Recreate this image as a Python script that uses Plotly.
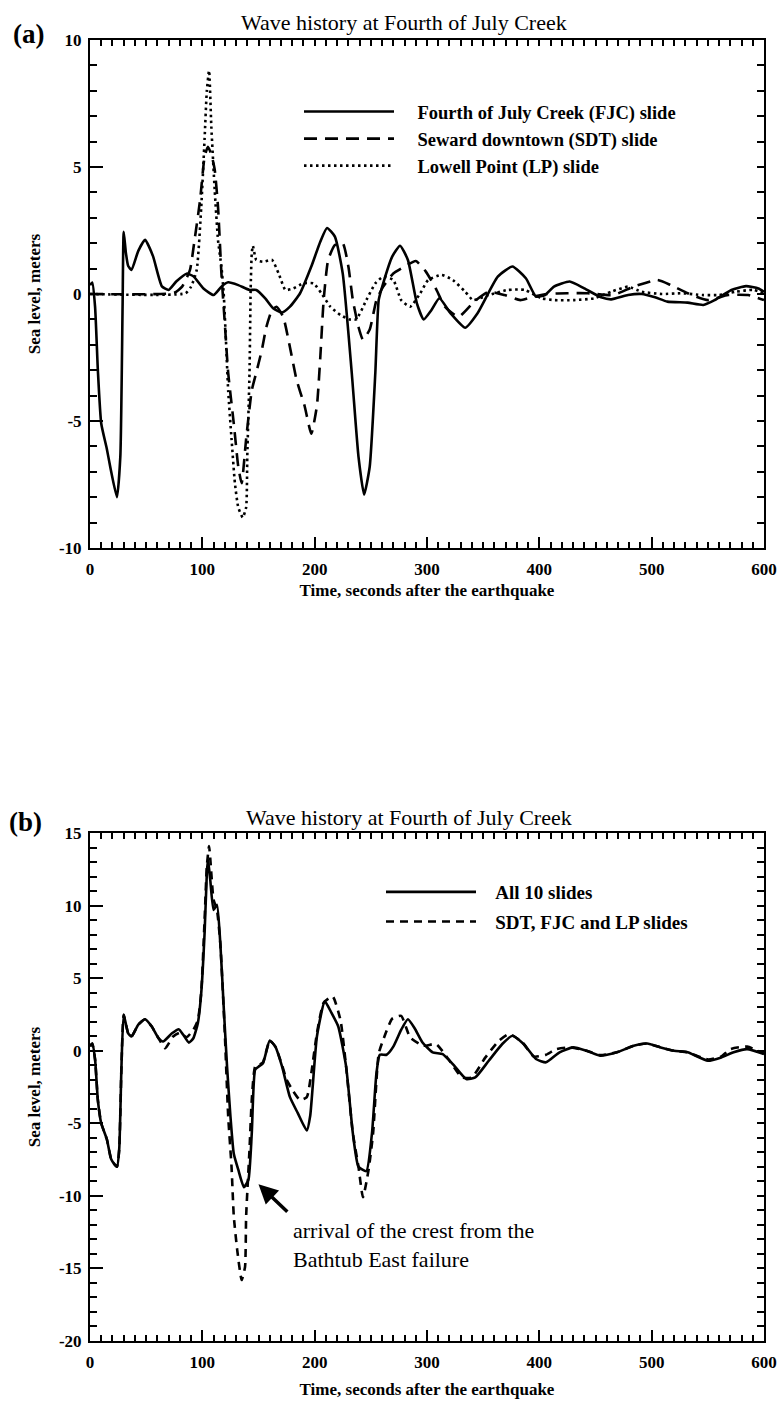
import plotly.graph_objects as go

# ---------------- Panel (a) data ----------------
t_fjc = [0, 2, 4.5, 7, 10, 15, 18, 24, 27, 29, 30, 32, 34, 37, 43, 49, 56, 64, 70, 77, 86, 92, 101, 110, 117, 123,
         132, 142, 148, 156, 163, 171, 178, 187, 197, 205, 211, 218, 225, 233, 239, 244, 249, 254, 257, 261, 269,
         276, 283, 291, 297, 304, 311, 321, 334, 345, 363, 376, 388, 397, 405, 413, 427, 440, 455, 464, 479, 491,
         503, 514, 532, 546, 556, 571, 584, 595, 600]
y_fjc = [0.35, 0.45, -0.5, -3.0, -5.1, -6.1, -6.8, -8.0, -6.4, -0.5, 2.45, 1.6, 1.1, 0.95, 1.7, 2.13, 1.5, 0.3,
         0.16, 0.5, 0.8, 0.7, 0.22, -0.04, 0.29, 0.46, 0.35, 0.16, 0.16, -0.17, -0.56, -0.73, -0.5, 0.03, 1.08,
         2.06, 2.6, 2.26, 0.8, -3.1, -6.4, -7.9, -6.8, -3.1, -0.24, 0.42, 1.47, 1.9, 1.34, -0.37, -1.0, -0.63,
         -0.17, -0.76, -1.33, -0.76, 0.68, 1.08, 0.62, -0.1, -0.04, 0.29, 0.49, 0.22, -0.13, -0.21, -0.04, 0.0,
         -0.13, -0.3, -0.34, -0.43, -0.24, 0.16, 0.31, 0.22, 0.09]

t_sdt = [0, 75, 82, 89, 93, 98, 102, 105, 108, 111, 114, 117, 120, 123, 128, 132, 135, 139, 144, 148, 153, 157,
         162, 166, 172, 178, 184, 191, 197, 202, 205, 208, 212, 218, 225, 230, 234, 239, 243, 249, 255, 261, 270,
         280, 290, 299, 308, 316, 328, 342, 355, 369, 383, 395, 407, 425, 443, 466, 484, 505, 517, 532, 550, 568,
         586, 600]
y_sdt = [0.0, 0.05, 0.29, 0.95, 2.1, 3.7, 5.4, 5.8, 5.5, 4.9, 3.4, 0.8, -1.15, -3.1, -5.1, -6.8, -7.45, -5.7,
         -3.8, -3.1, -2.2, -1.3, -0.63, -0.5, -0.9, -2.1, -3.4, -4.4, -5.5, -4.4, -2.5, -0.24, 1.34, 1.93, 2.0,
         1.08, -0.24, -1.3, -1.8, -1.4, -0.24, 0.29, 0.81, 1.08, 1.3, 0.88, 0.2, -0.5, -0.9, -0.3, 0.09, -0.04,
         -0.24, -0.1, 0.0, 0.03, 0.03, -0.04, 0.29, 0.55, 0.35, 0.03, -0.24, -0.04, -0.04, -0.24]

t_lp = [0, 85, 90, 95, 99, 102, 104, 106, 108, 111, 114, 117, 119, 121, 123, 126, 129, 132, 136, 139, 140, 142,
        143, 144, 145, 148, 154, 162, 168, 174, 181, 190, 199, 206, 214, 223, 231, 237, 246, 254, 261, 270, 277,
        285, 294, 301, 313, 323, 334, 341, 355, 372, 387, 402, 413, 431, 449, 464, 479, 491, 509, 527, 545, 560,
        575, 590, 600]
y_lp = [0.0, 0.03, 0.29, 0.95, 3.4, 6.1, 8.0, 8.8, 6.6, 4.1, 2.1, 1.08, 0.03, -1.8, -3.8, -5.7, -7.45, -8.4,
        -8.8, -8.4, -6.4, -3.1, 0.16, 1.6, 1.9, 1.34, 1.27, 1.34, 0.8, 0.16, 0.22, 0.42, 0.42, 0.03, -0.5, -0.83,
        -1.0, -1.0, -0.24, 0.42, 0.68, 0.55, -0.24, -0.5, 0.03, 0.55, 0.75, 0.55, 0.09, -0.24, -0.04, 0.16, 0.16,
        -0.17, -0.24, -0.24, -0.17, 0.09, 0.29, 0.09, 0.0, 0.03, -0.04, -0.04, 0.09, 0.16, 0.03]

# ---------------- Panel (b) data ----------------
t_all = [0, 2, 4.5, 7, 10, 15, 19, 24, 26, 28, 30, 34, 37, 43, 49, 55, 61, 65, 73, 79, 83, 88, 92, 96, 99, 102,
         104, 105, 107, 110, 113, 116, 119, 122, 125, 128, 132, 137, 141, 144, 147, 150, 154, 160, 165, 171, 178,
         185, 193, 196, 202, 209, 215, 221, 228, 234, 239, 246, 251, 255, 258, 264, 270, 277, 283, 289, 296, 305,
         314, 323, 335, 343, 355, 367, 376, 386, 397, 406, 418, 430, 442, 454, 469, 484, 496, 508, 520, 532, 550,
         562, 573, 585, 600]
y_all = [0.3, 0.5, -0.6, -3.4, -5.0, -6.1, -7.5, -8.0, -6.8, -1.1, 2.47, 1.2, 0.98, 1.8, 2.17, 1.67, 0.86, 0.63,
         1.2, 1.48, 1.1, 0.56, 0.86, 1.9, 3.97, 8.1, 12.2, 13.2, 11.8, 9.7, 10.06, 7.4, 3.05, -1.1, -4.5, -7.1,
         -8.2, -9.4, -8.9, -5.7, -1.3, -1.1, -0.86, 0.7, 0.28, -1.1, -3.2, -4.3, -5.5, -4.5, 0.98, 3.4, 2.6, 1.67,
         -1.1, -5.7, -8.0, -8.3, -5.7, -1.55, -0.28, -0.28, 0.28, 1.44, 2.17, 1.55, 0.57, -0.11, -0.23, -0.92,
         -1.95, -1.84, -0.69, 0.46, 1.03, 0.46, -0.57, -0.8, -0.11, 0.23, 0.0, -0.34, -0.11, 0.34, 0.5, 0.23, 0.0,
         -0.11, -0.69, -0.46, -0.11, 0.11, -0.23]

t_three = [0, 2, 4.5, 7, 10, 15, 19, 24, 26, 28, 30, 34, 37, 43, 49, 55, 61, 67, 74, 80, 86, 92, 96, 99, 102,
           104, 106, 107, 110, 113, 116, 120, 123, 126, 128, 131, 135, 138, 139, 142, 144, 147, 150, 154, 160, 165,
           171, 175, 181, 187, 193, 197, 202, 208, 216, 223, 228, 234, 239, 243, 248, 252, 257, 261, 269, 277, 285,
           297, 308, 319, 331, 340, 352, 364, 373, 385, 395, 406, 415, 427, 442, 454, 469, 484, 496, 508, 520, 532,
           550, 562, 570, 585, 600]
y_three = [0.3, 0.5, -0.6, -3.4, -5.0, -6.1, -7.5, -8.0, -6.8, -1.1, 2.47, 1.2, 0.98, 1.8, 2.17, 1.67, 0.86,
           0.17, 0.98, 1.24, 0.93, 1.44, 2.1, 4.0, 9.0, 12.7, 14.1, 13.3, 10.4, 9.7, 7.4, 1.2, -4.5, -8.0, -11.4,
           -13.7, -15.8, -14.9, -11.4, -6.8, -3.4, -1.1, -1.0, -0.8, 0.7, 0.28, -1.0, -2.0, -2.8, -3.4, -3.2,
           -1.55, 1.2, 3.3, 3.74, 2.1, -1.1, -5.7, -8.0, -10.1, -8.2, -5.7, -0.2, 0.75, 2.2, 2.4, 0.92, 0.34, 0.46,
           -0.57, -1.84, -1.84, -0.46, 0.69, 1.15, 0.57, -0.4, -0.28, 0.11, 0.23, 0.0, -0.3, -0.11, 0.34, 0.5,
           0.23, 0.0, -0.11, -0.6, -0.4, 0.11, 0.28, -0.2]

# ---------------- labels / ticks ----------------
names_a = ["Fourth of July Creek (FJC) slide", "Seward downtown (SDT) slide", "Lowell Point (LP) slide"]
names_b = ["All 10 slides", "SDT, FJC and LP slides"]
title_text = "Wave history at Fourth of July Creek"
xlabel = "Time, seconds after the earthquake"
ylabel = "Sea level, meters"
note_text = "arrival of the crest from the<br>Bathtub East failure"
x_tickvals = [0, 100, 200, 300, 400, 500, 600]
x_ticktext = ["0", "100", "200", "300", "400", "500", "600"]
ya_tickvals = [-10, -5, 0, 5, 10]
ya_ticktext = ["-10", "-5", "0", "5", "10"]
yb_tickvals = [-20, -15, -10, -5, 0, 5, 10, 15]
yb_ticktext = ["-20", "-15", "-10", "-5", "0", "5", "10", "15"]
x_range = [0, 600]
ya_range = [-10, 10]
yb_range = [-20, 15]

SERIF = "Liberation Serif"
LW = 2.6
NB = "&nbsp;"

fig = go.Figure()
fig.add_trace(go.Scatter(x=t_fjc, y=y_fjc, name=NB * 4 + names_a[0], mode="lines", legendgroup="a1",
                         line=dict(color="black", width=LW, shape="spline", smoothing=0.5),
                         xaxis="x", yaxis="y", legend="legend"))
# SDT drawn on the top/right companion axes (same range and domain as panel (a))
fig.add_trace(go.Scatter(x=t_sdt, y=y_sdt, name=NB * 4 + names_a[1], mode="lines", legendgroup="a2",
                         line=dict(color="black", width=LW, dash="13px,8px", shape="spline", smoothing=0.5),
                         xaxis="x3", yaxis="y3", legend="legend"))
fig.add_trace(go.Scatter(x=t_lp, y=y_lp, name=NB * 4 + names_a[2], mode="lines", legendgroup="a3",
                         line=dict(color="black", width=LW, dash="2.5px,3.5px", shape="spline", smoothing=0.5),
                         xaxis="x", yaxis="y", legend="legend"))
fig.add_trace(go.Scatter(x=t_all, y=y_all, name=NB * 3 + names_b[0], mode="lines", legendgroup="b1",
                         line=dict(color="black", width=LW, shape="spline", smoothing=0.5),
                         xaxis="x2", yaxis="y2", legend="legend2"))
fig.add_trace(go.Scatter(x=t_three, y=y_three, name=NB * 3 + names_b[1], mode="lines", legendgroup="b2",
                         line=dict(color="black", width=LW, dash="8px,6px", shape="spline", smoothing=0.5),
                         xaxis="x4", yaxis="y4", legend="legend2"))

H = 1401.0
W = 780.0
xdom = [90 / W, 764 / W]
ydom_a = [1 - 548 / H, 1 - 40 / H]
ydom_b = [1 - 1341 / H, 1 - 833 / H]

tickfont = dict(family=SERIF, size=17, color="black", weight="bold")
titlefont = dict(family=SERIF, size=17, color="black", weight="bold")


def xaxis_cfg(anchor, standoff):
    return dict(domain=xdom, anchor=anchor, range=x_range, tickmode="array",
                tickvals=x_tickvals, ticktext=x_ticktext, ticklabelstandoff=5, side="bottom",
                ticks="inside", ticklen=11, tickwidth=2, tickcolor="black",
                minor=dict(tickmode="linear", dtick=10, tick0=0, ticks="inside", ticklen=6, tickwidth=1.6,
                           tickcolor="black"),
                showline=True, linecolor="black", linewidth=2, mirror=True,
                showgrid=False, zeroline=False, automargin=False, tickfont=tickfont,
                title=dict(text=xlabel, font=titlefont, standoff=standoff))


def yaxis_cfg(anchor, rng, dom, tv, tt):
    return dict(domain=dom, anchor=anchor, range=rng, tickmode="array", tickvals=tv, ticktext=tt,
                ticklabelstandoff=3, side="left",
                ticks="inside", ticklen=13, tickwidth=2, tickcolor="black",
                minor=dict(tickmode="linear", dtick=1, tick0=0, ticks="inside", ticklen=7, tickwidth=1.6,
                           tickcolor="black"),
                showline=True, linecolor="black", linewidth=2, mirror=True,
                showgrid=False, zeroline=False, automargin=False, tickfont=tickfont,
                title=dict(text=ylabel, font=titlefont, standoff=14))


def xaxis_top(over, anchor):
    return dict(domain=xdom, anchor=anchor, overlaying=over, side="top", range=x_range,
                tickmode="linear", tick0=0, dtick=10, ticks="inside", ticklen=6, tickwidth=1.6,
                tickcolor="black", showticklabels=False, showline=False, showgrid=False,
                zeroline=False, automargin=False)


def yaxis_right(over, anchor, rng, dom):
    return dict(domain=dom, anchor=anchor, overlaying=over, side="right", range=rng,
                tickmode="linear", tick0=0, dtick=1, ticks="inside", ticklen=7, tickwidth=1.6,
                tickcolor="black", showticklabels=False, showline=False, showgrid=False,
                zeroline=False, automargin=False)


legfont_a = dict(family=SERIF, size=18.5, color="black", weight="bold")
legfont_b = dict(family=SERIF, size=19, color="black", weight="bold")

fig.update_layout(
    template="none",
    width=780, height=1401,
    margin=dict(l=0, r=0, t=0, b=0, pad=0, autoexpand=False),
    paper_bgcolor="white", plot_bgcolor="white",
    xaxis=xaxis_cfg("y", 6),
    yaxis=yaxis_cfg("x", ya_range, ydom_a, ya_tickvals, ya_ticktext),
    xaxis2=xaxis_cfg("y2", 12),
    yaxis2=yaxis_cfg("x2", yb_range, ydom_b, yb_tickvals, yb_ticktext),
    xaxis3=xaxis_top("x", "y"),
    yaxis3=yaxis_right("y", "x", ya_range, ydom_a),
    xaxis4=xaxis_top("x2", "y2"),
    yaxis4=yaxis_right("y2", "x2", yb_range, ydom_b),
    legend=dict(x=299 / W, y=1 - 93 / H, xanchor="left", yanchor="top", font=legfont_a,
                itemwidth=90, tracegroupgap=0, bgcolor="rgba(0,0,0,0)", traceorder="grouped"),
    legend2=dict(x=381 / W, y=1 - 873 / H, xanchor="left", yanchor="top", font=legfont_b,
                 itemwidth=90, tracegroupgap=2, bgcolor="rgba(0,0,0,0)", traceorder="grouped"),
    showlegend=True,
)

annots = [
    dict(text=title_text, x=404 / W, y=1 - 23 / H, xref="paper", yref="paper", showarrow=False,
         font=dict(family=SERIF, size=22, color="black"), xanchor="center", yanchor="middle"),
    dict(text=title_text, x=409 / W, y=1 - 817 / H, xref="paper", yref="paper", showarrow=False,
         font=dict(family=SERIF, size=22, color="black"), xanchor="center", yanchor="middle"),
    dict(text="(a)", x=11 / W, y=1 - 34 / H, xref="paper", yref="paper", showarrow=False,
         font=dict(family=SERIF, size=27, color="black", weight="bold"), xanchor="left", yanchor="middle"),
    dict(text="(b)", x=7 / W, y=1 - 822 / H, xref="paper", yref="paper", showarrow=False,
         font=dict(family=SERIF, size=27, color="black", weight="bold"), xanchor="left", yanchor="middle"),
    dict(text=note_text, x=179, y=-13.4, xref="x2", yref="y2", showarrow=False, align="left",
         font=dict(family=SERIF, size=22, color="black"), xanchor="left", yanchor="middle"),
    dict(text="", x=150, y=-9.2, ax=177, ay=-11.2, xref="x2", yref="y2", axref="x2", ayref="y2",
         showarrow=True, arrowhead=2, arrowsize=1.1, arrowwidth=3.5, arrowcolor="black"),
]
fig.update_layout(annotations=annots)

fig.write_html("out.html",
               post_script="document.body.style.margin='0';document.body.style.overflow='hidden';")
